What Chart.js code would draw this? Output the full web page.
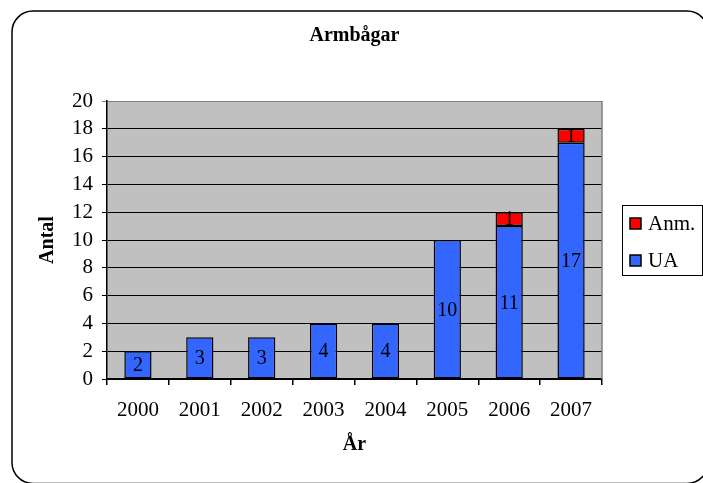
<!DOCTYPE html>
<html lang="sv">
<head>
    <meta charset="UTF-8">
    <title>Armbågar</title>
    <script src="https://cdn.jsdelivr.net/npm/chart.js"></script>
    <style>
        html, body { margin: 0; padding: 0; background: #fff; }
        #wrap { width: 703px; height: 483px; }
    </style>
</head>
<body>
    <div id="wrap">
        <canvas id="arm-chart"></canvas>
    </div>

    <script>
        // data
        const years = ['2000', '2001', '2002', '2003', '2004', '2005', '2006', '2007'];
        const uaValues = [2, 3, 3, 4, 4, 10, 11, 17];
        const anmValues = [0, 0, 0, 0, 0, 0, 1, 1];
        const yMax = 20;
        const yStep = 2;

        const serif = '"Liberation Serif", "Times New Roman", serif';

        // gray plot area, outer rounded frame and title
        const backdrop = {
            id: 'backdrop',
            beforeDraw(chart) {
                const ctx = chart.ctx;
                const a = chart.chartArea;
                ctx.save();
                ctx.fillStyle = '#fff';
                ctx.fillRect(0, 0, chart.width, chart.height);
                ctx.strokeStyle = '#000';
                ctx.lineWidth = 1.5;
                ctx.beginPath();
                ctx.roundRect(12, 11, 696, 472.5, 21);
                ctx.stroke();
                ctx.fillStyle = '#c0c0c0';
                ctx.fillRect(a.left, a.top, a.right - a.left, a.bottom - a.top);
                ctx.fillStyle = '#000';
                ctx.font = 'bold 20px ' + serif;
                ctx.textAlign = 'center';
                ctx.textBaseline = 'middle';
                ctx.fillText('Armbågar', (a.left + a.right) / 2, 36);
                ctx.restore();
            },
            beforeDatasetsDraw(chart) {
                const ctx = chart.ctx;
                const a = chart.chartArea;
                ctx.save();
                ctx.strokeStyle = '#808080';
                ctx.lineWidth = 1.5;
                ctx.beginPath();
                ctx.moveTo(a.right, a.top);
                ctx.lineTo(a.right, a.bottom);
                ctx.stroke();
                ctx.restore();
            }
        };

        // values written in the middle of each bar piece
        const barLabels = {
            id: 'barLabels',
            afterDatasetsDraw(chart) {
                const ctx = chart.ctx;
                ctx.save();
                ctx.fillStyle = '#000';
                ctx.font = '20px ' + serif;
                ctx.textAlign = 'center';
                ctx.textBaseline = 'middle';
                chart.data.datasets.forEach((ds, i) => {
                    chart.getDatasetMeta(i).data.forEach((bar, j) => {
                        const v = ds.data[j];
                        if (!v) return;
                        ctx.fillText(String(v), bar.x, (bar.y + bar.base) / 2 + 1);
                    });
                });
                ctx.restore();
            }
        };

        // boxed legend on the right, Anm. above UA
        const boxLegend = {
            id: 'boxLegend',
            afterDraw(chart) {
                const ctx = chart.ctx;
                const items = chart.data.datasets.slice().reverse();
                ctx.save();
                ctx.fillStyle = '#fff';
                ctx.fillRect(622, 205, 80, 70);
                ctx.strokeStyle = '#000';
                ctx.lineWidth = 1;
                ctx.strokeRect(622.5, 205.5, 80, 70);
                ctx.font = '21px ' + serif;
                ctx.textBaseline = 'middle';
                items.forEach((ds, i) => {
                    const y = 223 + i * 37;
                    ctx.fillStyle = ds.backgroundColor;
                    ctx.fillRect(630, y - 5, 11, 11);
                    ctx.lineWidth = 1.5;
                    ctx.strokeRect(630, y - 5, 11, 11);
                    ctx.fillStyle = '#000';
                    ctx.fillText(ds.label, 648, y + 1);
                });
                ctx.restore();
            }
        };

        new Chart(document.getElementById('arm-chart'), {
            type: 'bar',
            data: {
                labels: years,
                datasets: [{
                    label: 'UA',
                    data: uaValues,
                    backgroundColor: '#3366ff',
                    borderColor: '#000',
                    borderWidth: 1.5,
                    borderSkipped: false
                }, {
                    label: 'Anm.',
                    data: anmValues.map(v => v || null),
                    backgroundColor: '#ff0000',
                    borderColor: '#000',
                    borderWidth: 1.5,
                    borderSkipped: false
                }]
            },
            options: {
                responsive: true,
                maintainAspectRatio: false,
                animation: false,
                layout: { padding: { top: 101, right: 101, left: 0, bottom: 0 } },
                datasets: { bar: { barPercentage: 0.44, categoryPercentage: 1 } },
                plugins: {
                    legend: { display: false },
                    title: { display: false },
                    tooltip: { enabled: false }
                },
                scales: {
                    x: {
                        stacked: true,
                        afterFit(scale) { scale.height = 104; },
                        border: { color: '#000', width: 1.5 },
                        grid: {
                            offset: true,
                            drawOnChartArea: false,
                            color: '#000',
                            lineWidth: 1.5,
                            tickLength: 6
                        },
                        ticks: {
                            color: '#000',
                            padding: 13,
                            font: { family: serif, size: 21 }
                        },
                        title: {
                            display: true,
                            text: 'År',
                            color: '#000',
                            font: { family: serif, size: 20, weight: 'bold' },
                            padding: { top: 0, bottom: 26 }
                        }
                    },
                    y: {
                        stacked: true,
                        min: 0,
                        max: yMax,
                        afterFit(scale) { scale.width = 107; },
                        border: { color: '#000', width: 1.5 },
                        grid: {
                            color: ctx => ctx.tick && ctx.tick.value === yMax ? '#808080' : '#000',
                            lineWidth: 1,
                            tickLength: 5
                        },
                        ticks: {
                            stepSize: yStep,
                            autoSkip: false,
                            color: '#000',
                            padding: 9,
                            font: { family: serif, size: 21 }
                        },
                        title: {
                            display: true,
                            text: 'Antal',
                            color: '#000',
                            font: { family: serif, size: 20, weight: 'bold' },
                            padding: { top: 36, bottom: 0 }
                        }
                    }
                }
            },
            plugins: [backdrop, barLabels, boxLegend]
        });
    </script>
</body>
</html>
